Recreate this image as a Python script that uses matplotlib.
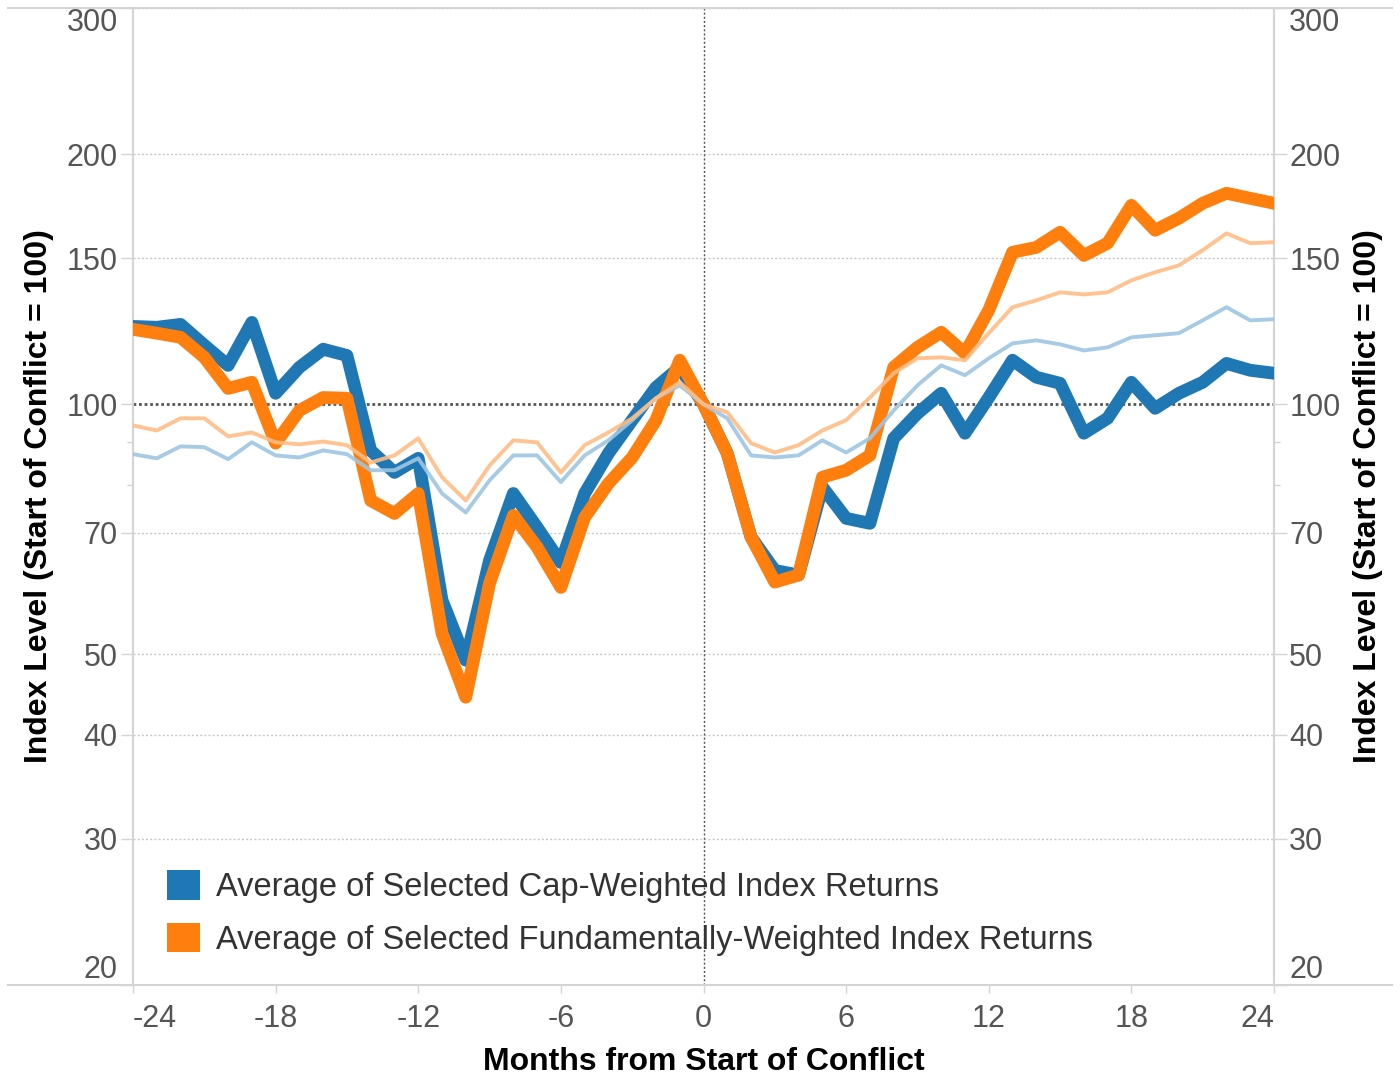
import matplotlib
matplotlib.use('Agg')
import matplotlib.pyplot as plt
from matplotlib.patches import Patch
from matplotlib.lines import Line2D

plt.rcParams['font.family'] = ['Liberation Sans', 'DejaVu Sans']

# data (index level, start of conflict = 100)
months = list(range(-24, 25))
cap_weighted = [124.1, 123.8, 124.8, 117.8, 111.4, 125.5, 103.1, 110.8, 116.5, 114.5,
                88.0, 82.8, 86.1, 58.1, 49.2, 64.9, 78.1, 71.1, 64.5, 78.1,
                87.3, 95.7, 104.8, 110.8, 100.0, 87.3, 69.2, 63.1, 62.3, 79.5,
                72.9, 71.9, 91.0, 97.5, 103.1, 92.3, 101.9, 113.0, 107.8, 106.0,
                92.3, 96.2, 106.3, 98.9, 103.1, 106.3, 112.0, 109.9, 109.0]
fundamental = [123.1, 121.8, 120.4, 113.9, 104.5, 106.3, 89.8, 98.3, 101.9, 101.7,
               76.6, 73.9, 78.1, 53.0, 44.4, 60.9, 73.5, 67.3, 60.2, 73.1,
               80.3, 86.3, 95.7, 113.0, 100.0, 87.3, 69.2, 61.1, 62.3, 81.7,
               83.3, 86.8, 110.8, 117.1, 122.1, 115.2, 129.8, 152.4, 154.5, 161.1,
               151.1, 156.3, 173.6, 162.0, 167.5, 174.6, 179.5, 177.0, 174.6]
cap_thin = [87.1, 86.1, 89.0, 88.8, 85.9, 90.0, 86.8, 86.3, 88.0, 87.1,
            83.3, 83.3, 86.1, 78.1, 74.1, 81.0, 86.8, 86.8, 80.6, 86.8,
            90.5, 95.7, 101.7, 105.4, 100.0, 96.2, 86.8, 86.3, 86.8, 90.5,
            87.5, 91.0, 98.3, 105.4, 111.4, 108.4, 113.6, 118.4, 119.4, 118.1,
            116.1, 117.1, 120.4, 121.1, 121.8, 126.2, 130.9, 126.2, 126.6]
fund_thin = [94.3, 93.0, 96.2, 96.2, 91.5, 92.5, 90.0, 89.5, 90.2, 89.3,
             85.1, 86.8, 91.0, 81.7, 76.6, 84.4, 90.5, 90.0, 82.8, 89.3,
             92.5, 96.2, 101.7, 106.3, 100.0, 97.8, 89.8, 87.5, 89.3, 93.0,
             95.7, 101.9, 109.0, 113.6, 113.9, 113.0, 121.8, 130.9, 133.4, 136.4,
             135.6, 136.4, 141.0, 144.2, 147.0, 153.3, 160.6, 156.3, 156.7]

y_ticks = [20, 30, 40, 50, 70, 100, 150, 200, 300]
x_ticks = [-24, -18, -12, -6, 0, 6, 12, 18, 24]
legend_labels = ['Average of Selected Cap-Weighted Index Returns',
                 'Average of Selected Fundamentally-Weighted Index Returns']

blue = '#1f77b4'
orange = '#ff7f0e'
lblue = '#9fc6e3'
lorange = '#ffbd85'
spine_c = '#d4d4d4'
label_c = '#555555'

fig = plt.figure(figsize=(14, 10.76), dpi=100)
ax = fig.add_axes([0.095, 0.0846, 0.815, 0.908])

ax.plot(months, cap_weighted, color=blue, lw=9.2, solid_joinstyle='round', zorder=3)
ax.plot(months, fundamental, color=orange, lw=9.2, solid_joinstyle='round', zorder=4)
ax.plot(months, cap_thin, color=lblue, lw=2.8, alpha=0.9, zorder=5)
ax.plot(months, fund_thin, color=lorange, lw=2.8, alpha=0.9, zorder=5)

ax.set_yscale('log')
ax.set_ylim(20, 300)
ax.set_xlim(-24, 24)
ax.set_yticks(y_ticks)
ax.set_yticklabels([str(v) for v in y_ticks])
ax.set_yticks([80, 90], minor=True)
ax.yaxis.set_minor_formatter(matplotlib.ticker.NullFormatter())
ax.set_xticks(x_ticks)
ax.set_xticklabels([str(v) for v in x_ticks])

# reference lines
for v in y_ticks:
    if v != 100:
        ax.axhline(v, color='#c8c8c8', lw=1.0, ls=(0, (1.5, 1.5)), zorder=1)
ax.axhline(100, color='#555555', lw=2.0, ls=(0, (1, 1)), zorder=2)
ax.axvline(0, color='#555555', lw=1.0, ls=(0, (1.5, 1.5)), zorder=2)

for s in ['left', 'right']:
    ax.spines[s].set_color(spine_c)
    ax.spines[s].set_linewidth(1.5)
for s in ['top', 'bottom']:
    ax.spines[s].set_visible(False)

ax.tick_params(axis='y', which='major', length=9, width=1, color=spine_c, pad=2,
               labelsize=22, labelcolor=label_c)
ax.tick_params(axis='y', which='minor', length=4, width=1, color=spine_c)
ax.tick_params(axis='x', length=6, width=1, color=spine_c, pad=8,
               labelsize=22, labelcolor=label_c)

# right hand axis mirrors the left one
ax2 = ax.twinx()
ax2.set_yscale('log')
ax2.set_ylim(20, 300)
ax2.set_yticks(y_ticks)
ax2.set_yticklabels([str(v) for v in y_ticks])
ax2.set_yticks([80, 90], minor=True)
ax2.yaxis.set_minor_formatter(matplotlib.ticker.NullFormatter())
ax2.tick_params(axis='y', which='major', length=9, width=1, color=spine_c, pad=2,
                labelsize=22, labelcolor=label_c)
ax2.tick_params(axis='y', which='minor', length=4, width=1, color=spine_c)
for s in ['top', 'bottom', 'left', 'right']:
    ax2.spines[s].set_visible(False)

# keep edge labels inside the axis range, like the original
for a in [ax, ax2]:
    labs = a.get_yticklabels()
    labs[0].set_va('bottom')
    labs[-1].set_va('top')
xl = ax.get_xticklabels()
xl[0].set_ha('left')
xl[-1].set_ha('right')

ax.set_xlabel('Months from Start of Conflict', fontsize=23, fontweight='bold', labelpad=9)
ax.set_ylabel('Index Level (Start of Conflict = 100)', fontsize=23, fontweight='bold', labelpad=9)
ax2.set_ylabel('Index Level (Start of Conflict = 100)', fontsize=23, fontweight='bold',
               rotation=90, labelpad=9)

handles = [Patch(facecolor=blue, edgecolor='none'), Patch(facecolor=orange, edgecolor='none')]
ax.legend(handles, legend_labels, loc='lower left', bbox_to_anchor=(0.004, 0.0),
          frameon=False, fontsize=23.5, handlelength=1.0, handleheight=1.0,
          handletextpad=0.5, labelspacing=0.6, labelcolor='#333333')

# pane borders running the full width
fig.add_artist(Line2D([0.006, 0.994], [0.9926, 0.9926], color=spine_c, lw=1.5))
fig.add_artist(Line2D([0.006, 0.994], [0.0846, 0.0846], color=spine_c, lw=1.5))

fig.savefig('out.png', dpi=100)
